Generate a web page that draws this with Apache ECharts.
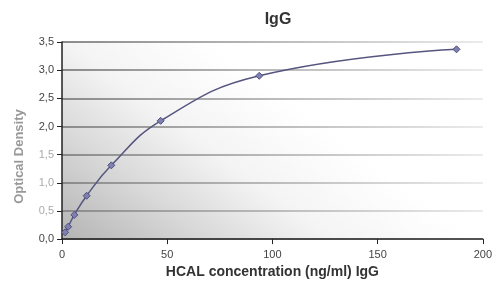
<!DOCTYPE html>
<html><head><meta charset="utf-8">
<script src="https://cdn.jsdelivr.net/npm/echarts@6/dist/echarts.min.js"></script>
<style>html,body{margin:0;padding:0;background:#fff}#c{width:495px;height:284px}</style>
</head><body><div id="c"></div>
<script>
const concentrations = [1.46, 2.93, 5.86, 11.72, 23.44, 46.88, 93.75, 187.5];
const odValues = [0.12, 0.22, 0.43, 0.77, 1.31, 2.10, 2.90, 3.37];
const xTicks = [0, 50, 100, 150, 200];
const yTicks = [0, 0.5, 1.0, 1.5, 2.0, 2.5, 3.0, 3.5];
const titleText = 'IgG';
const xName = 'HCAL concentration (ng/ml) IgG';
const yName = 'Optical Density';

const chart = echarts.init(document.getElementById('c'), null, {renderer: 'canvas'});
const fontFam = 'Liberation Sans, Arial, sans-serif';
chart.setOption({
  animation: false,
  title: {text: titleText, left: 273, top: 7, textAlign: 'center',
    textStyle: {fontFamily: fontFam, fontSize: 16, fontWeight: 'bold', color: '#333'}},
  grid: {left: 62, right: 10, top: 42, bottom: 42, show: true, borderWidth: 0,
    backgroundColor: new echarts.graphic.LinearGradient(0, 1, 0.35, 0, [
      {offset: 0, color: '#b4b4b4'}, {offset: 0.35, color: '#d8d8d8'}, {offset: 0.65, color: '#f4f4f4'}, {offset: 1, color: '#ffffff'}])},
  xAxis: {type: 'value', min: xTicks[0], max: xTicks[xTicks.length-1], interval: 50,
    name: xName, nameLocation: 'middle', nameGap: 24,
    nameTextStyle: {fontFamily: fontFam, fontSize: 14, fontWeight: 'bold', color: '#333'},
    axisLine: {show: true, onZero: false, lineStyle: {color: '#222', width: 1.5}},
    axisTick: {show: true, length: 5, lineStyle: {color: '#222'}},
    axisLabel: {fontFamily: fontFam, fontSize: 11, color: '#444', margin: 10},
    splitLine: {show: false}},
  yAxis: {type: 'value', min: yTicks[0], max: yTicks[yTicks.length-1], interval: 0.5,
    name: yName, nameLocation: 'middle', nameGap: 36, nameRotate: 90,
    nameTextStyle: {fontFamily: fontFam, fontSize: 13, fontWeight: 'bold', color: '#999', padding: [0, 32, 0, 0]},
    axisLine: {show: true, lineStyle: {color: '#222', width: 1.5}},
    axisTick: {show: true, length: 5, lineStyle: {color: '#222'}},
    axisLabel: {fontFamily: fontFam, fontSize: 11, margin: 8,
      color: function (v) { return (v > 0 && v < 2) ? '#aaaaaa' : '#444'; },
      formatter: function (v) { return v.toFixed(1).replace('.', ','); }},
    splitLine: {show: true, lineStyle: {width: 2,
      color: new echarts.graphic.LinearGradient(0, 0, 1, 0, [
        {offset: 0, color: '#8a8a8a'}, {offset: 0.6, color: '#c4c4c4'}, {offset: 1, color: '#ececec'}])}}},
  series: [{
    type: 'line', smooth: 0.45, data: concentrations.map((x, i) => [x, odValues[i]]),
    symbol: 'diamond', symbolSize: 7,
    lineStyle: {color: '#55557f', width: 1.5},
    itemStyle: {color: '#8080b0', borderColor: '#4f4f80', borderWidth: 1}
  }]
});
</script></body></html>
